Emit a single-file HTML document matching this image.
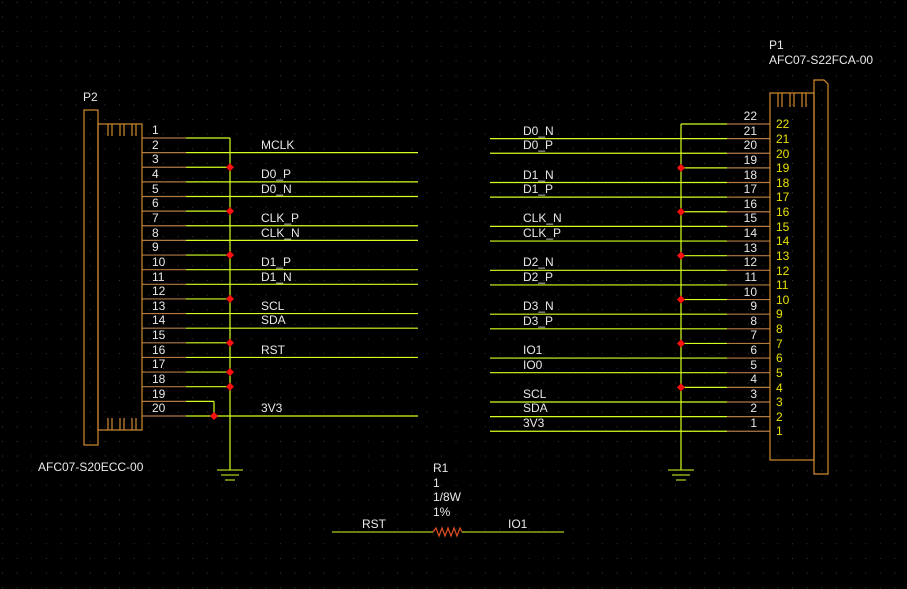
<!DOCTYPE html>
<html><head><meta charset="utf-8"><style>
html,body{margin:0;padding:0;background:#000;}
svg{display:block}
text{font-family:"Liberation Sans",sans-serif;font-size:12px;fill:#e8e8e8}
.y{fill:#e8e000}
</style></head><body>
<svg id="s" width="907" height="589" viewBox="0 0 907 589" xmlns="http://www.w3.org/2000/svg">
<defs><pattern id="g" x="2" y="2" width="14.63" height="14.63" patternUnits="userSpaceOnUse"><rect width="1" height="1" fill="#3a3a3a"/></pattern></defs>
<rect width="907" height="589" fill="#000"/>
<rect width="907" height="589" fill="url(#g)"/>
<g id="lines" stroke-width="1.2" fill="none"></g>
<g id="dots" fill="#ff1010"></g>
<g stroke="#d08a30" fill="none" stroke-width="1.2">
<rect x="84" y="110" width="14" height="335"/>
<rect x="98" y="124" width="44" height="306"/>
<path d="M108 124v12M112 124v12M120 124v12M124 124v12M132 124v12M136 124v12"/>
<path d="M108 430v-12M112 430v-12M120 430v-12M124 430v-12M132 430v-12M136 430v-12"/>
<rect x="770" y="93" width="44" height="367"/>
<path d="M814 80h10l4 4v390h-14z"/>
<path d="M778 93v14M782 93v14M790 93v14M794 93v14M802 93v14M806 93v14"/>
<path d="M433 532l3-4 3 8 3-8 3 8 3-8 3 8 3-8 3 8 3-8 2 4" stroke="#e05020"/>
</g>
<g stroke="#d4ff20" stroke-width="1">
<path d="M332 532h101M462 532h102"/>
<path d="M217 470h26M221 475h18M225 480h10"/>
<path d="M668 470h26M672 475h18M676 480h10"/>
</g>
<text x="83" y="101">P2</text>
<text x="38" y="471">AFC07-S20ECC-00</text>
<text x="769" y="49">P1</text>
<text x="769" y="64">AFC07-S22FCA-00</text>
<text x="433" y="472">R1</text>
<text x="433" y="487">1</text>
<text x="433" y="501">1/8W</text>
<text x="433" y="516">1%</text>
<text x="362" y="528">RST</text>
<text x="508" y="528">IO1</text>
<g>
<text x="152" y="134">1</text><text x="152" y="149">2</text><text x="152" y="163">3</text><text x="152" y="178">4</text><text x="152" y="193">5</text><text x="152" y="207">6</text><text x="152" y="222">7</text><text x="152" y="237">8</text><text x="152" y="251">9</text><text x="152" y="266">10</text><text x="152" y="281">11</text><text x="152" y="295">12</text><text x="152" y="310">13</text><text x="152" y="324">14</text><text x="152" y="339">15</text><text x="152" y="354">16</text><text x="152" y="368">17</text><text x="152" y="383">18</text><text x="152" y="398">19</text><text x="152" y="412">20</text>
<text x="261" y="149">MCLK</text><text x="261" y="178">D0_P</text><text x="261" y="193">D0_N</text><text x="261" y="222">CLK_P</text><text x="261" y="237">CLK_N</text><text x="261" y="266">D1_P</text><text x="261" y="281">D1_N</text><text x="261" y="310">SCL</text><text x="261" y="324">SDA</text><text x="261" y="354">RST</text><text x="261" y="412">3V3</text>
</g>
<g text-anchor="end">
<text x="757" y="120">22</text><text x="757" y="135">21</text><text x="757" y="149">20</text><text x="757" y="164">19</text><text x="757" y="179">18</text><text x="757" y="193">17</text><text x="757" y="208">16</text><text x="757" y="222">15</text><text x="757" y="237">14</text><text x="757" y="252">13</text><text x="757" y="266">12</text><text x="757" y="281">11</text><text x="757" y="296">10</text><text x="757" y="310">9</text><text x="757" y="325">8</text><text x="757" y="339">7</text><text x="757" y="354">6</text><text x="757" y="369">5</text><text x="757" y="383">4</text><text x="757" y="398">3</text><text x="757" y="412">2</text><text x="757" y="427">1</text>
</g>
<g>
<text class="y" x="776" y="128">22</text><text class="y" x="776" y="143">21</text><text class="y" x="776" y="158">20</text><text class="y" x="776" y="172">19</text><text class="y" x="776" y="187">18</text><text class="y" x="776" y="201">17</text><text class="y" x="776" y="216">16</text><text class="y" x="776" y="231">15</text><text class="y" x="776" y="245">14</text><text class="y" x="776" y="260">13</text><text class="y" x="776" y="275">12</text><text class="y" x="776" y="289">11</text><text class="y" x="776" y="304">10</text><text class="y" x="776" y="318">9</text><text class="y" x="776" y="333">8</text><text class="y" x="776" y="348">7</text><text class="y" x="776" y="362">6</text><text class="y" x="776" y="377">5</text><text class="y" x="776" y="392">4</text><text class="y" x="776" y="406">3</text><text class="y" x="776" y="421">2</text><text class="y" x="776" y="435">1</text>
</g>
<g>
<text x="523" y="135">D0_N</text><text x="523" y="149">D0_P</text><text x="523" y="179">D1_N</text><text x="523" y="193">D1_P</text><text x="523" y="222">CLK_N</text><text x="523" y="237">CLK_P</text><text x="523" y="266">D2_N</text><text x="523" y="281">D2_P</text><text x="523" y="310">D3_N</text><text x="523" y="325">D3_P</text><text x="523" y="354">IO1</text><text x="523" y="369">IO0</text><text x="523" y="398">SCL</text><text x="523" y="412">SDA</text><text x="523" y="427">3V3</text>
</g>
</svg>
<script>
var L=document.getElementById('lines'),D=document.getElementById('dots'),NS='http://www.w3.org/2000/svg';
function ln(x1,y1,x2,y2,c){var e=document.createElementNS(NS,'line');e.setAttribute('x1',x1);e.setAttribute('y1',y1);e.setAttribute('x2',x2);e.setAttribute('y2',y2);e.setAttribute('stroke',c);L.appendChild(e);}
function dt(x,y){var e=document.createElementNS(NS,'path');e.setAttribute('d','M'+x+' '+(y-4)+'l4 4-4 4-4-4z');D.appendChild(e);}
var G='#d4ff20',B='#b07a45';
var lt=['b','l','d','l','l','d','l','l','d','l','l','d','l','l','d','l','d','d','s','l'];
for(var k=0;k<20;k++){var y=138+14.63*k;ln(142,y,186,y,B);
 var t=lt[k];if(t=='l')ln(186,y,418,y,G);else if(t=='s'){ln(186,y,214,y,G);ln(214,y,214,416,G);}else{ln(186,y,230,y,G);if(t=='d')dt(230,y);}}
dt(214,416);ln(230,138,230,470,G);
var rt=['b','l','l','d','l','l','d','l','l','d','l','l','d','l','l','d','l','l','d','l','l','l'];
for(var k=0;k<22;k++){var y=124+14.63*k;ln(727,y,770,y,B);
 var t=rt[k];if(t=='l')ln(490,y,727,y,G);else{ln(681,y,727,y,G);if(t=='d')dt(681,y);}}
ln(681,124,681,470,G);
</script>
</body></html>
